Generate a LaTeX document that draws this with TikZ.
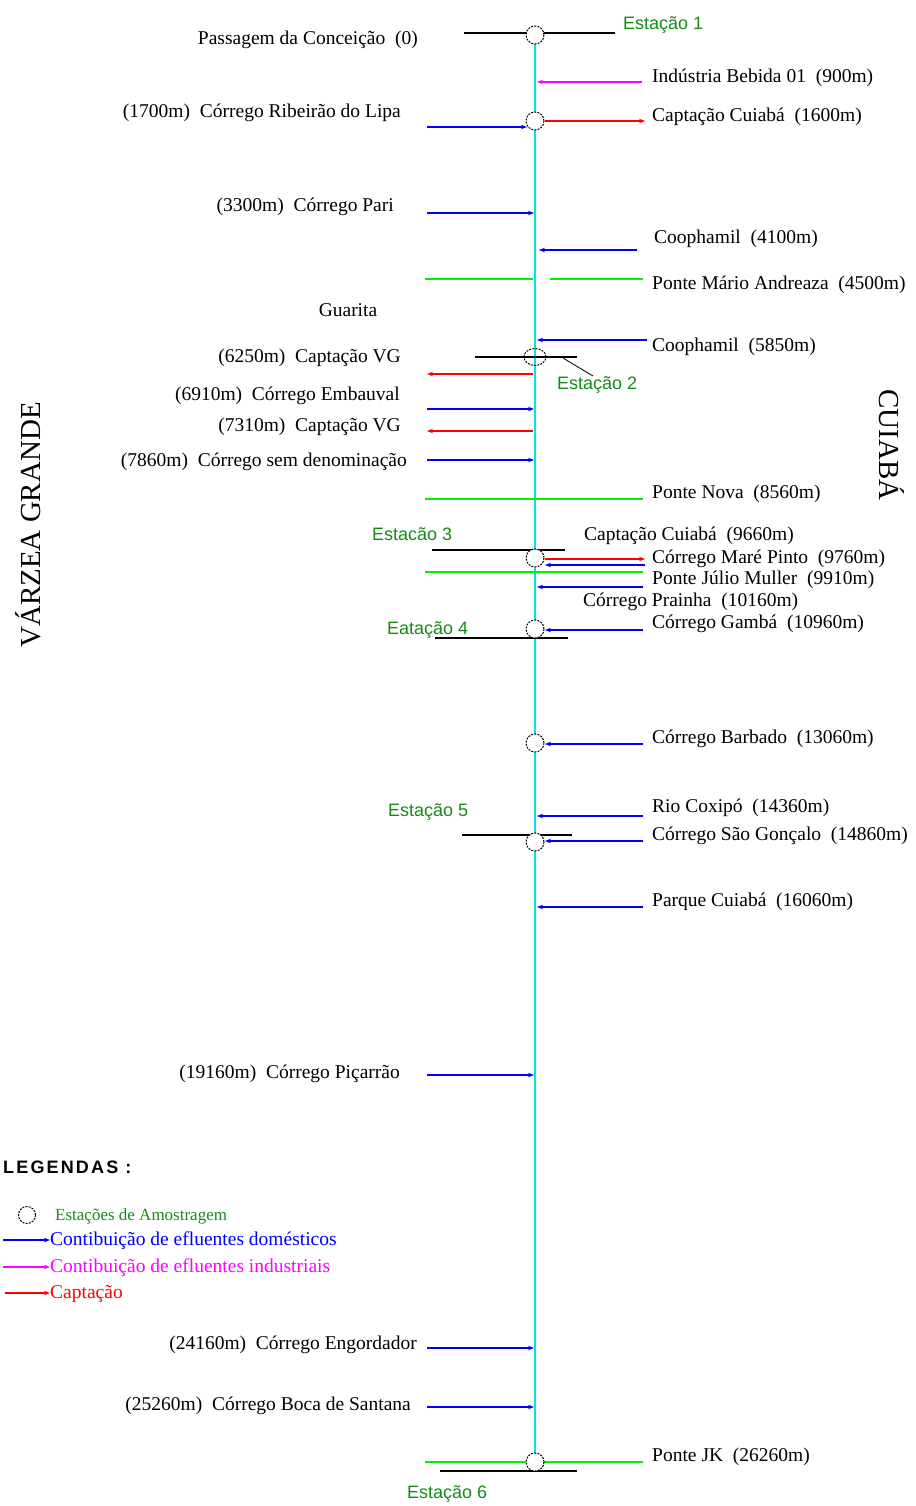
\documentclass[tikz,border=0pt]{standalone}
\usepackage{fontspec}
\setmainfont{Liberation Serif}
\newfontfamily\stfont{Liberation Sans}
\newfontfamily\legfont[LetterSpace=12]{Liberation Sans}
\usetikzlibrary{arrows.meta,shapes.geometric}
\definecolor{stgreen}{RGB}{20,140,20}
\definecolor{rivercyan}{RGB}{0,230,230}
\definecolor{domblue}{RGB}{0,0,255}
\definecolor{indmag}{RGB}{255,0,255}
\definecolor{capred}{RGB}{255,0,0}
\definecolor{brgreen}{RGB}{0,240,0}
\newcommand\lnk[5]{\coordinate (#2a) at (#3,#5); \coordinate (#2b) at (#4,#5); \draw[#1] (#2a) -- (#2b);}
\begin{document}
\begin{tikzpicture}[x=1pt,y=-1pt,
  lab/.style={font=\fontsize{19.5}{22}\selectfont, inner sep=0pt, yshift=-2pt},
  rlab/.style={lab, anchor=west},
  llab/.style={lab, anchor=east},
  stlab/.style={font=\stfont\fontsize{18}{20}\selectfont, text=stgreen, inner sep=0pt, anchor=west, yshift=-1pt},
  station/.style={circle, draw=black, dash pattern=on 2pt off 1.2pt, line width=1pt, fill=white, minimum size=18pt, inner sep=0pt},
  river/.style={draw=rivercyan, line width=1.6pt},
  arrtip/.style={-{Stealth[length=6pt,width=4.5pt]}},
  domflow/.style={draw=domblue, line width=1.3pt, arrtip},
  indflow/.style={draw=indmag, line width=1.3pt, arrtip},
  capflow/.style={draw=capred, line width=1.3pt, arrtip},
  bridge/.style={draw=brgreen, line width=1.3pt},
  stbar/.style={draw=black, line width=1.3pt},
  bigname/.style={font=\fontsize{29}{32}\selectfont, inner sep=0pt}
]
\useasboundingbox (0,0) rectangle (915,1506);

% river
\coordinate (rtop) at (535,35);
\coordinate (rbot) at (535,1462);
\draw[river] (rtop) -- (rbot);

% black station bars
\lnk{stbar}{k1}{464}{615}{33}
\lnk{stbar}{k2}{475}{577}{357}
\lnk{stbar}{k3}{432}{565}{550}
\lnk{stbar}{k4}{435}{568}{638}
\lnk{stbar}{k5}{462}{572}{835}
\lnk{stbar}{k6}{440}{577}{1471}

% bridges
\lnk{bridge}{g1}{425}{533}{279}
\lnk{bridge}{g1r}{550}{643}{279}
\lnk{bridge}{g2}{425}{643}{499}
\lnk{bridge}{g3}{425}{643}{572}
\lnk{bridge}{g4}{425}{643}{1462}

% stations
\node[station] (s1) at (535,35) {};
\node[station] (s1b) at (535,121) {};
\node[station, shape=ellipse, fill=none, minimum width=22pt, minimum height=17pt] (s2) at (535,357) {};
\node[station] (s3) at (535,558) {};
\node[station] (s4) at (535,629) {};
\node[station] (s4b) at (535,743) {};
\node[station] (s5) at (535,842) {};
\node[station] (s6) at (535,1462) {};

% industrial
\lnk{indflow}{i1}{642}{537}{82}
% captations
\lnk{capflow}{c1}{545}{645}{121}
\lnk{capflow}{c2}{545}{645}{559}
\lnk{capflow}{c3}{533}{427}{374}
\lnk{capflow}{c4}{533}{427}{431}
% domestic, left side
\lnk{domflow}{d1}{427}{527}{127}
\lnk{domflow}{d2}{427}{534}{213}
\lnk{domflow}{d3}{427}{534}{409}
\lnk{domflow}{d4}{427}{534}{460}
\lnk{domflow}{d5}{427}{534}{1075}
\lnk{domflow}{d6}{427}{534}{1348}
\lnk{domflow}{d7}{427}{534}{1407}
% domestic, right side
\lnk{domflow}{e1}{637}{539}{250}
\lnk{domflow}{e2}{647}{537}{340}
\lnk{domflow}{e3}{645}{545}{565}
\lnk{domflow}{e4}{643}{537}{587}
\lnk{domflow}{e5}{643}{545}{630}
\lnk{domflow}{e6}{643}{545}{744}
\lnk{domflow}{e7}{643}{537}{816}
\lnk{domflow}{e8}{643}{545}{841}
\lnk{domflow}{e9}{643}{537}{907}

% station labels
\node[stlab] (t1) at (623,24) {Estação 1};
\node[stlab] (t2) at (557,384) {Estação 2};
\node[stlab] (t3) at (372,533) {Estacão 3};
\node[stlab] (t4) at (387,629) {Eatação 4};
\node[stlab] (t5) at (388,811) {Estação 5};
\node[stlab] (t6) at (407,1493) {Estação 6};
\coordinate (leadA) at (563,358);
\coordinate (lead) at (593,376);
\draw[black, line width=0.8pt] (leadA) -- (lead);

% right labels
\node[rlab] (r1) at (652,76) {Indústria Bebida 01~~(900m)};
\node[rlab] (r2) at (652,115) {Captação Cuiabá~~(1600m)};
\node[rlab] (r3) at (654,237) {Coophamil~~(4100m)};
\node[rlab] (r4) at (652,283) {Ponte Mário Andreaza~~(4500m)};
\node[rlab] (r5) at (652,345) {Coophamil~~(5850m)};
\node[rlab] (r6) at (652,492) {Ponte Nova~~(8560m)};
\node[rlab] (r7) at (584,534) {Captação Cuiabá~~(9660m)};
\node[rlab] (r8) at (652,557) {Córrego Maré Pinto~~(9760m)};
\node[rlab] (r9) at (652,578) {Ponte Júlio Muller~~(9910m)};
\node[rlab] (r10) at (583,600) {Córrego Prainha~~(10160m)};
\node[rlab] (r11) at (652,622) {Córrego Gambá~~(10960m)};
\node[rlab] (r12) at (652,737) {Córrego Barbado~~(13060m)};
\node[rlab] (r13) at (652,806) {Rio Coxipó~~(14360m)};
\node[rlab] (r14) at (652,834) {Córrego São Gonçalo~~(14860m)};
\node[rlab] (r15) at (652,900) {Parque Cuiabá~~(16060m)};
\node[rlab] (r16) at (652,1455) {Ponte JK~~(26260m)};

% left labels
\node[llab] (l1) at (418,38) {Passagem da Conceição~~(0)};
\node[llab] (l2) at (401,111) {(1700m)~~Córrego Ribeirão do Lipa};
\node[llab] (l3) at (394,205) {(3300m)~~Córrego Pari};
\node[lab] (l4) at (348,308) {Guarita};
\node[llab] (l5) at (401,356) {(6250m)~~Captação VG};
\node[llab] (l6) at (400,394) {(6910m)~~Córrego Embauval};
\node[llab] (l7) at (401,425) {(7310m)~~Captação VG};
\node[llab] (l8) at (407,460) {(7860m)~~Córrego sem denominação};
\node[llab] (l9) at (400,1072) {(19160m)~~Córrego Piçarrão};
\node[llab] (l10) at (417,1343) {(24160m)~~Córrego Engordador};
\node[llab] (l11) at (411,1404) {(25260m)~~Córrego Boca de Santana};

% city names
\node[bigname, rotate=90] (vg) at (28,525) {VÁRZEA GRANDE};
\node[bigname, rotate=-90] (cb) at (892,445) {CUIABÁ};

% legend
\node[anchor=west, inner sep=0pt, font=\legfont\bfseries\fontsize{18}{20}\selectfont] (leg) at (3,1167) {LEGENDAS :};
\node[station, minimum size=17pt] (lc) at (27,1215) {};
\node[anchor=west, inner sep=0pt, text=stgreen, font=\fontsize{17}{19}\selectfont] (lt1) at (55,1216) {Estações de Amostragem};
\node[anchor=west, inner sep=0pt, text=domblue, font=\fontsize{19.5}{22}\selectfont, yshift=-1pt] (lt2) at (50,1240) {Contibuição de efluentes domésticos};
\node[anchor=west, inner sep=0pt, text=indmag, font=\fontsize{19.5}{22}\selectfont, yshift=-1pt] (lt3) at (50,1267) {Contibuição de efluentes industriais};
\node[anchor=west, inner sep=0pt, text=capred, font=\fontsize{19.5}{22}\selectfont, yshift=-1pt] (lt4) at (50,1293) {Captação};
\coordinate (la2) at (3,1240);
\coordinate (la3) at (3,1267);
\coordinate (la4) at (5,1293);
\draw[domflow] (la2) -- (la2 -| lt2.west);
\draw[indflow] (la3) -- (la3 -| lt3.west);
\draw[capflow] (la4) -- (la4 -| lt4.west);
\end{tikzpicture}
\end{document}
